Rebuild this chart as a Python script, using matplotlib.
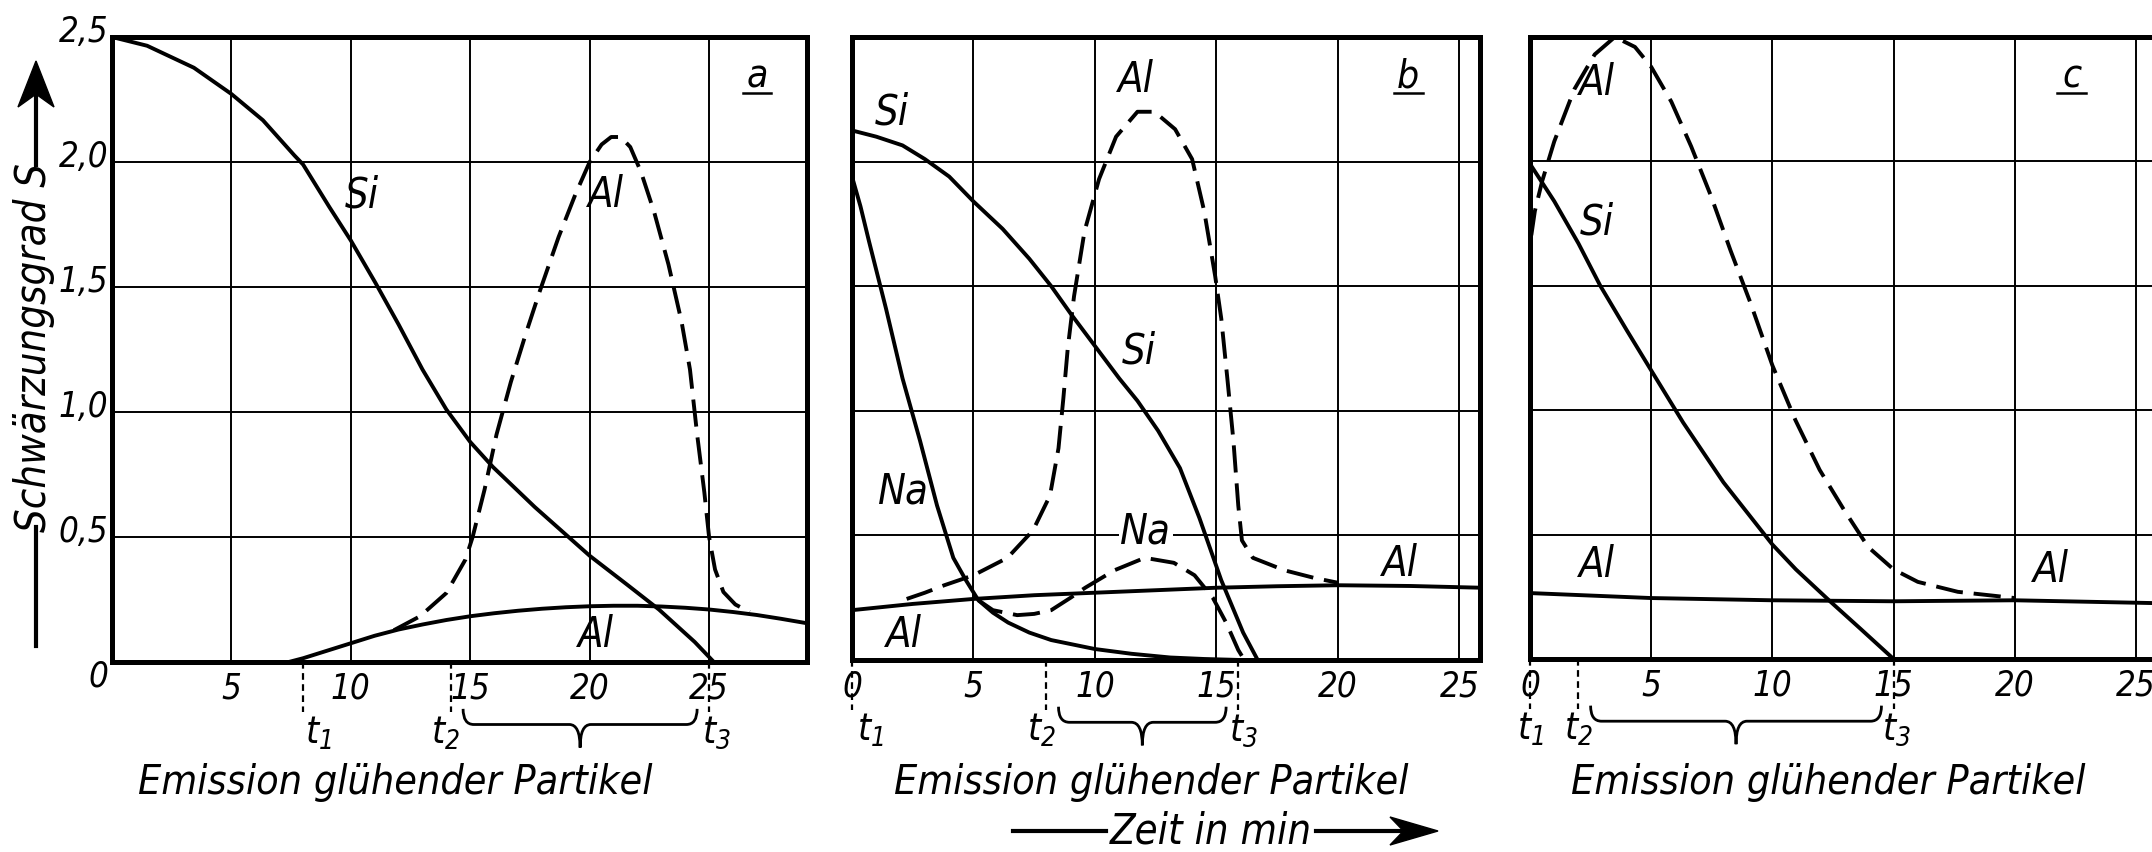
import matplotlib
matplotlib.use('Agg')
import matplotlib.pyplot as plt
from matplotlib.path import Path
from matplotlib.patches import PathPatch, Polygon
from matplotlib.lines import Line2D

plt.rcParams['font.family'] = ['DejaVu Sans']
plt.rcParams['font.style'] = 'italic'
plt.rcParams['font.stretch'] = 'condensed'
plt.rcParams['mathtext.fontset'] = 'custom'
plt.rcParams['mathtext.it'] = 'DejaVu Sans:italic'
plt.rcParams['mathtext.rm'] = 'DejaVu Sans:italic'

# ---- data ----
x_ticks = [0, 5, 10, 15, 20, 25]
y_ticks = [0, 0.5, 1.0, 1.5, 2.0, 2.5]
y_labels = ['0', '0,5', '1,0', '1,5', '2,0', '2,5']

# panel a
a_si_x = [0, 1.47, 3.43, 5.0, 6.32, 7.64, 8.0, 9.1, 10.0, 11.04, 12.0, 13.0, 14.0, 15.0, 15.95,
          17.7, 20.0, 21.56, 22.9, 24.4, 25.2]
a_si_y = [2.5, 2.465, 2.377, 2.272, 2.167, 2.026, 1.99, 1.82, 1.686, 1.515, 1.35, 1.17, 1.01, 0.88,
          0.78, 0.62, 0.425, 0.31, 0.21, 0.08, 0.0]
a_al_x = [7.4, 8, 9, 10, 11, 12, 13, 14, 15, 16, 17, 18, 19, 20, 21, 22, 23, 24, 25, 26, 27, 28, 29.1]
a_al_y = [0, 0.015, 0.045, 0.075, 0.105, 0.13, 0.15, 0.168, 0.183, 0.195, 0.205, 0.213, 0.219, 0.223,
          0.225, 0.225, 0.222, 0.217, 0.21, 0.2, 0.188, 0.173, 0.155]
a_ald_x = [11.8, 12.9, 14.0, 14.8, 15.1, 15.6, 16.1, 16.7, 17.35, 17.9, 18.7, 19.4, 20.0, 20.5, 20.9,
           21.3, 21.7, 22.15, 22.7, 23.3, 23.85, 24.2, 24.5, 24.8, 25.0, 25.25, 25.6, 26.1, 26.7]
a_ald_y = [0.127, 0.183, 0.276, 0.41, 0.5, 0.69, 0.91, 1.12, 1.32, 1.48, 1.7, 1.87, 2.0, 2.07, 2.1,
           2.1, 2.06, 1.96, 1.8, 1.59, 1.36, 1.17, 0.91, 0.68, 0.5, 0.37, 0.28, 0.23, 0.2]
a_t = [8.0, 14.2, 25.0]

# panel b
b_si_x = [0, 1, 2.08, 3.0, 4.0, 5.0, 6.2, 7.3, 8.2, 9.0, 10.0, 11.0, 11.75, 12.6, 13.5, 14.3, 15.2,
          16.1, 16.7]
b_si_y = [2.125, 2.1, 2.065, 2.01, 1.94, 1.84, 1.73, 1.61, 1.5, 1.39, 1.26, 1.13, 1.04, 0.92, 0.77,
          0.57, 0.32, 0.11, 0]
b_na_x = [0, 0.35, 0.7, 1.4, 2.08, 2.8, 3.5, 4.17, 4.69, 5.2, 5.8, 6.43, 7.3, 8.2, 10.0, 11.5, 13.1,
          14.5, 16.0]
b_na_y = [1.94, 1.82, 1.68, 1.41, 1.13, 0.88, 0.62, 0.41, 0.32, 0.24, 0.19, 0.15, 0.11, 0.08, 0.044,
          0.025, 0.01, 0.004, 0]
b_nad_x = [5.2, 5.8, 6.8, 7.5, 8.2, 9.0, 9.6, 10.8, 12.05, 13.25, 14.1, 14.85, 15.4, 15.9, 16.15]
b_nad_y = [0.24, 0.2, 0.18, 0.185, 0.2, 0.25, 0.29, 0.36, 0.41, 0.39, 0.34, 0.25, 0.15, 0.04, 0]
b_al_x = [0, 2.5, 5, 7.5, 10, 12.5, 15, 17.5, 20, 23, 25.9]
b_al_y = [0.2, 0.225, 0.245, 0.26, 0.27, 0.28, 0.29, 0.296, 0.3, 0.297, 0.29]
b_ald_x = [2.25, 3.0, 3.8, 5.0, 6.4, 7.45, 8.15, 8.5, 8.7, 8.88, 9.14, 9.57, 10.17, 10.87, 11.75,
           12.45, 13.3, 14.0, 14.5, 14.95, 15.2, 15.45, 15.7, 15.9, 16.05, 16.5, 17.8, 19.0, 20.0]
b_ald_y = [0.245, 0.27, 0.3, 0.34, 0.41, 0.52, 0.66, 0.85, 1.05, 1.25, 1.46, 1.72, 1.93, 2.1, 2.2,
           2.2, 2.13, 2.01, 1.8, 1.54, 1.37, 1.13, 0.88, 0.62, 0.48, 0.41, 0.36, 0.33, 0.31]
b_t = [0.0, 8.0, 15.9]

# panel c
c_si_x = [0, 1.0, 2.0, 2.9, 4.0, 5.0, 6.32, 7.98, 10.0, 10.97, 12.4, 13.65, 15.0]
c_si_y = [1.99, 1.84, 1.67, 1.5, 1.32, 1.16, 0.95, 0.71, 0.46, 0.36, 0.23, 0.12, 0]
c_ald_x = [0, 0.05, 0.2, 0.5, 1.0, 1.83, 2.67, 3.5, 4.33, 5.0, 5.83, 6.65, 7.47, 8.28, 9.1, 10.0,
           10.95, 11.95, 12.95, 13.95, 15.0, 16.0, 17.65, 20.0]
c_ald_y = [1.55, 1.7, 1.8, 1.92, 2.08, 2.29, 2.43, 2.5, 2.46, 2.38, 2.24, 2.06, 1.86, 1.64, 1.43,
           1.18, 0.96, 0.76, 0.6, 0.45, 0.36, 0.31, 0.27, 0.245]
c_al_x = [0, 5, 10, 15, 20, 25.6]
c_al_y = [0.265, 0.245, 0.236, 0.232, 0.236, 0.225]
c_t = [0.0, 2.0, 15.0]

FS_TICK = 25
FS_LAB = 30
W, H = 2152, 853
fig = plt.figure(figsize=(W / 100, H / 100), dpi=100)


def px_box(left, right, top, bottom):
    return [left / W, 1 - bottom / H, (right - left) / W, (bottom - top) / H]


def fxy(x, y):
    # pixel position (origin top left) -> figure fraction
    return x / W, 1 - y / H


ax_a = fig.add_axes(px_box(112, 807, 38, 663))
ax_b = fig.add_axes(px_box(852, 1480, 38, 661))
ax_c = fig.add_axes(px_box(1530, 2152, 38, 660))

DASH = (0, (7, 2.8))
LW = 2.8


def setup(ax, xmax, xlabels):
    ax.set_xlim(0, xmax)
    ax.set_ylim(0, 2.5)
    ax.set_xticks(x_ticks)
    ax.set_xticklabels(xlabels)
    ax.set_yticks(y_ticks)
    ax.set_yticklabels([])
    ax.grid(True, color='black', lw=1.4)
    ax.set_axisbelow(True)
    ax.tick_params(length=0, pad=6, labelsize=FS_TICK)
    for s in ax.spines.values():
        s.set_linewidth(3.6)


def brace(ax, x0, x1):
    tr = ax.get_xaxis_transform()
    xm = (x0 + x1) / 2
    d = 0.45
    ye, yl, yt = -0.075, -0.10, -0.137
    verts = [(x0, ye), (x0, yl), (x0 + d, yl), (xm - d, yl), (xm, yl), (xm, yt),
             (xm, yl), (xm + d, yl), (x1 - d, yl), (x1, yl), (x1, ye)]
    codes = [Path.MOVETO, Path.CURVE3, Path.CURVE3, Path.LINETO, Path.CURVE3, Path.CURVE3,
             Path.CURVE3, Path.CURVE3, Path.LINETO, Path.CURVE3, Path.CURVE3]
    ax.add_patch(PathPatch(Path(verts, codes), transform=tr, fill=False, lw=2.0,
                           color='black', clip_on=False))


def t_marks(ax, ts, offs):
    tr = ax.get_xaxis_transform()
    ppu = ax.get_window_extent().width / (ax.get_xlim()[1] - ax.get_xlim()[0])
    for i, (t, o) in enumerate(zip(ts, offs)):
        ax.plot([t, t], [0, -0.08], transform=tr, color='black', lw=1.6,
                ls=(0, (3, 2)), clip_on=False)
        ax.text(t + o / ppu, -0.112, r'$t_%d$' % (i + 1), transform=tr, ha='center',
                va='center', fontsize=27)
    brace(ax, ts[1] + 0.5, ts[2] - 0.5)


def letter(ax, x, s):
    ax.text(x, 2.3, s, ha='center', va='baseline', fontsize=28)
    ax.plot([x - 0.6, x + 0.6], [2.275, 2.275], color='black', lw=1.8)


def label(ax, x, y, s, **kw):
    ax.text(x, y, s, fontsize=FS_LAB, ha='center', va='center', **kw)


# ---- panel a ----
setup(ax_a, 29.1, ['', '5', '10', '15', '20', '25'])
ax_a.plot(a_si_x, a_si_y, color='black', lw=LW)
ax_a.plot(a_al_x, a_al_y, color='black', lw=LW)
ax_a.plot(a_ald_x, a_ald_y, color='black', lw=LW, ls=DASH)
for v, s in zip(y_ticks, y_labels):
    off = -0.055 if v == 0 else 0.024
    ax_a.text(-0.005, v + off, s, transform=ax_a.get_yaxis_transform(), ha='right',
              va='center', fontsize=FS_TICK)
label(ax_a, 10.47, 1.87, 'Si')
label(ax_a, 20.7, 1.87, 'Al')
label(ax_a, 20.25, 0.11, 'Al')
letter(ax_a, 27.0, 'a')
t_marks(ax_a, a_t, [15, -6, 7])

# ---- panel b ----
setup(ax_b, 25.85, ['0', '5', '10', '15', '20', '25'])
ax_b.plot(b_si_x, b_si_y, color='black', lw=LW)
ax_b.plot(b_na_x, b_na_y, color='black', lw=LW)
ax_b.plot(b_al_x, b_al_y, color='black', lw=LW)
ax_b.plot(b_nad_x, b_nad_y, color='black', lw=LW, ls=DASH)
ax_b.plot(b_ald_x, b_ald_y, color='black', lw=LW, ls=DASH)
label(ax_b, 1.65, 2.2, 'Si')
label(ax_b, 11.7, 2.33, 'Al')
label(ax_b, 11.8, 1.24, 'Si')
label(ax_b, 2.1, 0.68, 'Na')
label(ax_b, 12.1, 0.52, 'Na', bbox=dict(facecolor='white', edgecolor='none', pad=1))
label(ax_b, 22.55, 0.39, 'Al')
label(ax_b, 2.15, 0.105, 'Al')
letter(ax_b, 22.9, 'b')
t_marks(ax_b, b_t, [18, -5, 5])

# ---- panel c ----
setup(ax_c, 25.66, ['0', '5', '10', '15', '20', '25'])
ax_c.spines['right'].set_visible(False)
ax_c.plot(c_si_x, c_si_y, color='black', lw=LW)
ax_c.plot(c_al_x, c_al_y, color='black', lw=LW)
ax_c.plot(c_ald_x, c_ald_y, color='black', lw=LW, ls=DASH, clip_on=False)
label(ax_c, 2.75, 2.32, 'Al')
label(ax_c, 2.75, 1.76, 'Si')
label(ax_c, 2.75, 0.38, 'Al')
label(ax_c, 21.5, 0.36, 'Al')
letter(ax_c, 22.35, 'c')
t_marks(ax_c, c_t, [0, 0, 3])

# ---- shared annotations ----
for cx in (395, 1151, 1828):
    fig.text(*fxy(cx, 783), 'Emission glühender Partikel', ha='center', va='center',
             fontsize=29.5)


def fig_line(p0, p1):
    (x0, y0), (x1, y1) = fxy(*p0), fxy(*p1)
    fig.add_artist(Line2D([x0, x1], [y0, y1], transform=fig.transFigure, lw=3, color='black'))


def barb_head(tip, direction, length, width):
    tx, ty = tip
    if direction == 'right':
        pts = [(tx, ty), (tx - length, ty - width / 2), (tx - 0.72 * length, ty),
               (tx - length, ty + width / 2)]
    else:
        pts = [(tx, ty), (tx - width / 2, ty + length), (tx, ty + 0.72 * length),
               (tx + width / 2, ty + length)]
    fig.add_artist(Polygon([fxy(*p) for p in pts], closed=True, transform=fig.transFigure,
                           facecolor='black', edgecolor='black', lw=1))


# y axis label with arrow
fig.text(*fxy(34, 347), 'Schwärzungsgrad S', rotation=90, ha='center', va='center', fontsize=30)
fig_line((36, 647), (36, 528))
fig_line((36, 166), (36, 90))
barb_head((36, 62), 'up', 46, 36)

# x axis label with arrow
fig.text(*fxy(1211, 832), 'Zeit in min', ha='center', va='center', fontsize=30)
fig_line((1013, 832), (1106, 832))
fig_line((1316, 832), (1410, 832))
barb_head((1438, 832), 'right', 48, 28)

fig.savefig('out.png', dpi=100, facecolor='white')
